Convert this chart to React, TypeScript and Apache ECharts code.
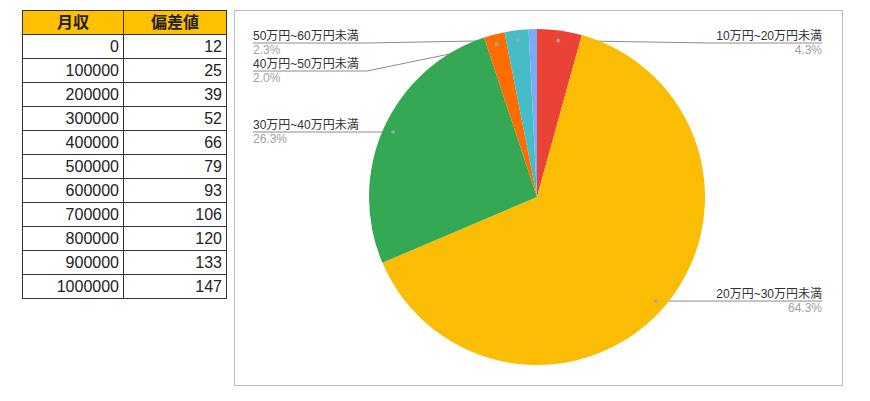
import { useEffect, useRef } from 'react';
import * as echarts from 'echarts';

const incomes = ['0', '100000', '200000', '300000', '400000', '500000', '600000', '700000', '800000', '900000', '1000000'];
const deviations = ['12', '25', '39', '52', '66', '79', '93', '106', '120', '133', '147'];

const sliceNames = ['10万円~20万円未満', '20万円~30万円未満', '30万円~40万円未満', '40万円~50万円未満', '50万円~60万円未満', '60万円以上'];
const sliceValues = [4.3, 64.3, 26.3, 2.0, 2.3, 0.8];
const sliceColors = ['#EA4335', '#FBBC04', '#34A853', '#FF6D01', '#46BDC6', '#7BAAF7'];
const labelled = [true, true, true, true, true, false];

const FONT = '"Liberation Sans", Arial, "Noto Sans CJK JP", sans-serif';
const CX = 302;
const CY = 186;
const R = 168;
const DOT_R = 0.94;
const LABEL_H = 28;
const LABEL_W = 108;

// mid angle (percent of the circle) for each slice
function midPercents() {
  const total = sliceValues.reduce((a, b) => a + b, 0);
  let acc = 0;
  return sliceValues.map((v) => {
    const mid = ((acc + v / 2) / total) * 100;
    acc += v;
    return mid;
  });
}

function computeLabelSpots() {
  const mids = midPercents();
  const spots = mids.map((m, i) => {
    const a = (m / 100) * Math.PI * 2;
    const dotX = CX + Math.sin(a) * R * DOT_R;
    const dotY = CY - Math.cos(a) * R * DOT_R;
    return { i, left: dotX < CX, dotX, dotY, lineY: Math.max(dotY, 32) };
  });
  // push overlapping labels down, per side
  [true, false].forEach((side) => {
    const list = spots.filter((s) => s.left === side && labelled[s.i]).sort((a, b) => a.lineY - b.lineY);
    for (let k = 1; k < list.length; k++) {
      if (list[k].lineY - list[k - 1].lineY < LABEL_H) {
        list[k].lineY = list[k - 1].lineY + LABEL_H;
      }
    }
  });
  return spots;
}

function PieChart() {
  const ref = useRef<HTMLDivElement | null>(null);

  useEffect(() => {
    if (!ref.current) {
      return;
    }
    const chart = echarts.init(ref.current, undefined, { renderer: 'svg' });
    const spots = computeLabelSpots();
    const mids = midPercents();
    const width = ref.current.clientWidth;

    chart.setOption({
      animation: false,
      backgroundColor: '#ffffff',
      polar: { center: [CX, CY], radius: R },
      angleAxis: { type: 'value', min: 0, max: 100, startAngle: 90, show: false },
      radiusAxis: { type: 'value', min: 0, max: 1, show: false },
      series: [
        {
          type: 'pie',
          center: [CX, CY],
          radius: R,
          startAngle: 90,
          clockwise: true,
          silent: true,
          data: sliceNames.map((name, i) => ({
            name,
            value: sliceValues[i],
            itemStyle: { color: sliceColors[i] },
            label: { show: labelled[i] },
            labelLine: { show: labelled[i] },
          })),
          label: {
            position: 'outside',
            width: LABEL_W,
            overflow: 'none',
            formatter: (p: any) => `{n|${p.name}}\n{p|${Number(p.value).toFixed(1)}%}`,
            rich: {
              n: { fontFamily: FONT, fontSize: 12, color: '#333333', lineHeight: 14 },
              p: { fontFamily: FONT, fontSize: 12, color: '#a0a0a0', lineHeight: 14 },
            },
          },
          labelLine: { lineStyle: { color: '#8c8c8c', width: 1 } },
          labelLayout: (params: any) => {
            const s = spots[params.dataIndex];
            const w = LABEL_W;
            if (s.left) {
              const x = 18;
              return {
                x,
                y: s.lineY,
                align: 'left',
                verticalAlign: 'middle',
                labelLinePoints: [
                  [s.dotX, s.dotY],
                  [Math.min(x + w + 6, s.dotX), s.lineY],
                  [x, s.lineY],
                ],
              };
            }
            const x = width - 20;
            return {
              x,
              y: s.lineY,
              align: 'right',
              verticalAlign: 'middle',
              labelLinePoints: [
                [s.dotX, s.dotY],
                [Math.max(x - w - 6, s.dotX), s.lineY],
                [x, s.lineY],
              ],
            };
          },
        },
        {
          type: 'scatter',
          coordinateSystem: 'polar',
          silent: true,
          symbolSize: 4,
          itemStyle: { color: '#a8a8a8' },
          data: mids.filter((_, i) => labelled[i]).map((m) => [DOT_R, m]),
        },
      ],
    });

    return () => {
      chart.dispose();
    };
  }, []);

  return (
    <div
      ref={ref}
      style={{
        position: 'absolute',
        left: 234,
        top: 10,
        width: 609,
        height: 376,
        border: '1px solid #bdbdbd',
        boxSizing: 'border-box',
      }}
    />
  );
}

const cell: React.CSSProperties = {
  border: '1px solid #333333',
  height: 23,
  padding: '0 4px 0 0',
  textAlign: 'right',
  fontSize: 16,
  color: '#222222',
  lineHeight: '22px',
};

export default function App() {
  return (
    <div style={{ position: 'fixed', left: 0, top: 0, width: 870, height: 401, background: '#ffffff', fontFamily: FONT }}>
      <table
        style={{
          position: 'absolute',
          left: 22,
          top: 10,
          borderCollapse: 'collapse',
          tableLayout: 'fixed',
          width: 204,
        }}
      >
        <colgroup>
          <col style={{ width: 101 }} />
          <col style={{ width: 103 }} />
        </colgroup>
        <thead>
          <tr>
            <th style={{ ...cell, background: '#FFC000', textAlign: 'center', fontWeight: 'bold', padding: 0 }}>月収</th>
            <th style={{ ...cell, background: '#FFC000', textAlign: 'center', fontWeight: 'bold', padding: 0 }}>偏差値</th>
          </tr>
        </thead>
        <tbody>
          {incomes.map((inc, i) => (
            <tr key={inc}>
              <td style={cell}>{inc}</td>
              <td style={cell}>{deviations[i]}</td>
            </tr>
          ))}
        </tbody>
      </table>
      <PieChart />
    </div>
  );
}
